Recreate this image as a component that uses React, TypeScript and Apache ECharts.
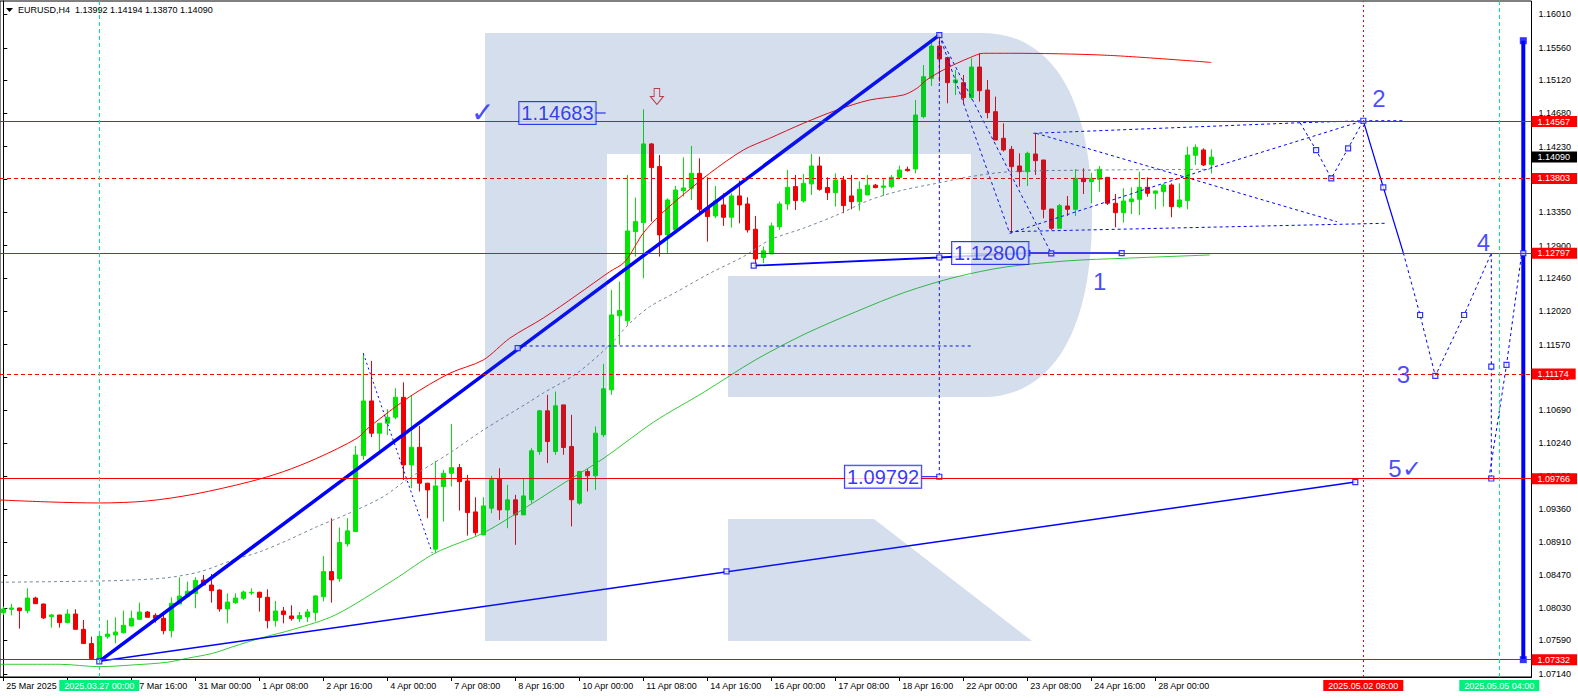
import React, { useEffect, useRef } from "react";
import * as echarts from "echarts";

const FONT = '"Liberation Sans", Arial, sans-serif';
const UP = "#00e600";
const DOWN = "#f00000";
const BLUE = "#0000ff";
const RED = "#ff0000";
const SPRING = "#00f07c";

// [open, close, low, high] – one per H4 bar, index 0 = 25 Mar 2025 00:00
const candles: number[][] = [
  [1.07964, 1.08014, 1.07933, 1.08045], [1.08009, 1.08027, 1.07928, 1.08081], [1.08027, 1.07991, 1.07749, 1.0803],
  [1.07991, 1.08161, 1.07955, 1.08291], [1.08161, 1.08085, 1.08081, 1.08179], [1.08081, 1.07893, 1.07879, 1.08085],
  [1.07911, 1.07933, 1.07763, 1.07946], [1.07933, 1.0783, 1.07763, 1.07935], [1.0783, 1.07946, 1.07821, 1.08009],
  [1.07946, 1.0774, 1.0774, 1.08009], [1.0774, 1.07548, 1.07548, 1.07866], [1.07548, 1.07346, 1.07328, 1.07642],
  [1.07346, 1.07646, 1.07306, 1.07664], [1.07642, 1.07677, 1.07615, 1.07866], [1.07664, 1.07704, 1.07552, 1.07902],
  [1.07695, 1.07794, 1.07686, 1.07991], [1.07785, 1.07888, 1.07779, 1.07991], [1.07875, 1.07973, 1.0787, 1.08099],
  [1.07973, 1.07902, 1.07902, 1.07987], [1.07928, 1.07888, 1.0783, 1.07955], [1.07888, 1.07722, 1.07673, 1.07946],
  [1.07722, 1.0809, 1.07633, 1.0817], [1.08081, 1.08188, 1.08081, 1.08439], [1.08179, 1.08251, 1.0817, 1.08381],
  [1.08224, 1.08399, 1.08023, 1.08439], [1.08403, 1.08336, 1.08336, 1.08471], [1.08336, 1.0826, 1.08099, 1.08484],
  [1.08269, 1.08014, 1.07978, 1.08278], [1.08014, 1.08108, 1.07821, 1.08224], [1.08099, 1.08161, 1.08081, 1.08224],
  [1.08157, 1.08242, 1.08135, 1.0826], [1.08229, 1.08238, 1.08202, 1.08291], [1.08238, 1.0817, 1.07978, 1.08247],
  [1.08171, 1.07857, 1.07754, 1.08278], [1.07857, 1.07987, 1.07777, 1.08122], [1.07987, 1.07938, 1.07821, 1.08041],
  [1.0792, 1.07884, 1.07857, 1.08063], [1.07884, 1.07925, 1.07839, 1.07974], [1.07907, 1.07974, 1.07839, 1.08014],
  [1.07965, 1.08189, 1.07848, 1.082], [1.08179, 1.08516, 1.08117, 1.08726], [1.08516, 1.08404, 1.08099, 1.09233],
  [1.0842, 1.08907, 1.0838, 1.09109], [1.08889, 1.09064, 1.08853, 1.09234], [1.09055, 1.10085, 1.0905, 1.10206],
  [1.10076, 1.10811, 1.10018, 1.11452], [1.10811, 1.10377, 1.10323, 1.11349], [1.10377, 1.10511, 1.10144, 1.10511],
  [1.10511, 1.10592, 1.10354, 1.10699], [1.10592, 1.1086, 1.10565, 1.10981], [1.1086, 1.09951, 1.09749, 1.11062],
  [1.09951, 1.10188, 1.09637, 1.10892], [1.10188, 1.09705, 1.09593, 1.10475], [1.09705, 1.09615, 1.09234, 1.0971],
  [1.08818, 1.09669, 1.08764, 1.10005], [1.0966, 1.09839, 1.09189, 1.09884], [1.09839, 1.09915, 1.0966, 1.10502],
  [1.09915, 1.09727, 1.09337, 1.09964], [1.09736, 1.0931, 1.09001, 1.09817], [1.09319, 1.09041, 1.09001, 1.09516],
  [1.0901, 1.094, 1.09005, 1.09516], [1.09369, 1.09758, 1.09301, 1.09803], [1.09758, 1.09346, 1.09212, 1.09906],
  [1.09346, 1.09481, 1.091, 1.09682], [1.09481, 1.09279, 1.08876, 1.09548], [1.09279, 1.09534, 1.09279, 1.09772],
  [1.09482, 1.10141, 1.09437, 1.10176], [1.10132, 1.10678, 1.10087, 1.10692], [1.10678, 1.10266, 1.09975, 1.10893],
  [1.10132, 1.10745, 1.10087, 1.10938], [1.10758, 1.10185, 1.10087, 1.10758], [1.10199, 1.09482, 1.09124, 1.10624],
  [1.09437, 1.09863, 1.09415, 1.0987], [1.09863, 1.09805, 1.09594, 1.09894], [1.09805, 1.10378, 1.09616, 1.10468],
  [1.10356, 1.10974, 1.10324, 1.1131], [1.1096, 1.11968, 1.10893, 1.12304], [1.11955, 1.12027, 1.11565, 1.12416],
  [1.11888, 1.13097, 1.11834, 1.1385], [1.13088, 1.13223, 1.12752, 1.13545], [1.13209, 1.14267, 1.12461, 1.14733],
  [1.14267, 1.13949, 1.13223, 1.1428], [1.13962, 1.13044, 1.12752, 1.14119], [1.13044, 1.13514, 1.12797, 1.13536],
  [1.13111, 1.13648, 1.13111, 1.13702], [1.13639, 1.13675, 1.13559, 1.14087], [1.13671, 1.13872, 1.13514, 1.1424],
  [1.13872, 1.13388, 1.13326, 1.14074], [1.13402, 1.1329, 1.12954, 1.13819], [1.13299, 1.13501, 1.13268, 1.13702],
  [1.13447, 1.13281, 1.13165, 1.13604], [1.13281, 1.13568, 1.13142, 1.13604], [1.13568, 1.13447, 1.132, 1.13774],
  [1.1346, 1.13111, 1.13075, 1.1355], [1.1312, 1.12721, 1.12618, 1.13299], [1.12739, 1.12829, 1.12663, 1.12887],
  [1.12788, 1.13165, 1.12788, 1.13209], [1.13155, 1.1346, 1.13111, 1.13492], [1.1346, 1.13684, 1.1338, 1.13917],
  [1.13693, 1.13505, 1.13379, 1.1385], [1.13501, 1.13738, 1.13478, 1.13863], [1.13729, 1.13971, 1.13581, 1.14132],
  [1.13971, 1.13657, 1.13639, 1.14096], [1.1368, 1.13612, 1.13514, 1.13818], [1.13612, 1.13783, 1.13424, 1.13872],
  [1.13783, 1.13438, 1.13335, 1.13836], [1.13568, 1.13491, 1.13388, 1.1385], [1.13491, 1.13657, 1.1337, 1.13765],
  [1.13581, 1.13713, 1.13581, 1.1385], [1.13713, 1.1368, 1.13671, 1.13729], [1.13684, 1.13702, 1.13568, 1.13792],
  [1.13693, 1.13818, 1.13671, 1.1385], [1.13814, 1.13917, 1.13805, 1.13975], [1.13926, 1.13908, 1.13895, 1.13962],
  [1.1393, 1.14656, 1.13872, 1.14858], [1.14634, 1.15171, 1.14612, 1.15328], [1.15149, 1.15584, 1.15046, 1.15655],
  [1.15584, 1.15409, 1.15104, 1.15718], [1.15427, 1.15091, 1.14813, 1.1544], [1.15091, 1.15127, 1.14925, 1.15261],
  [1.15091, 1.14889, 1.14813, 1.15194], [1.14889, 1.15301, 1.14858, 1.15418], [1.15301, 1.14983, 1.14835, 1.15485],
  [1.14992, 1.14688, 1.14612, 1.15127], [1.14701, 1.1432, 1.1432, 1.14903], [1.14343, 1.14186, 1.14164, 1.14544],
  [1.14195, 1.13962, 1.13066, 1.14239], [1.13971, 1.13894, 1.13693, 1.14141], [1.13894, 1.14141, 1.13702, 1.14163],
  [1.14132, 1.14042, 1.1385, 1.1441], [1.14051, 1.13388, 1.13267, 1.14051], [1.13392, 1.13133, 1.13111, 1.13392],
  [1.13133, 1.13437, 1.13133, 1.13459], [1.13433, 1.13388, 1.13299, 1.13567], [1.13388, 1.13805, 1.13299, 1.1393],
  [1.13805, 1.1376, 1.13594, 1.13939], [1.1376, 1.13805, 1.13469, 1.13881], [1.13791, 1.13926, 1.13625, 1.1397],
  [1.13818, 1.13469, 1.13446, 1.13818], [1.13469, 1.13343, 1.13146, 1.13594], [1.13343, 1.135, 1.13209, 1.1367],
  [1.13491, 1.13527, 1.13325, 1.13684], [1.13522, 1.13684, 1.13312, 1.13894], [1.13684, 1.13603, 1.13558, 1.13818],
  [1.13603, 1.13635, 1.13388, 1.13639], [1.13626, 1.13715, 1.13424, 1.13729], [1.13715, 1.13424, 1.13281, 1.13738],
  [1.13424, 1.13514, 1.13402, 1.13738], [1.13505, 1.14118, 1.13388, 1.1423], [1.14114, 1.14221, 1.13984, 1.14262],
  [1.14186, 1.13984, 1.1397, 1.14208], [1.13992, 1.1409, 1.1387, 1.14194],
];

const xTickIndex = [0, 8, 16, 24, 32, 40, 48, 56, 64, 72, 80, 88, 96, 104, 112, 120, 128, 136, 144];
// the 26 Mar 08:00 label sits under the highlighted cursor time box, so it is not shown
const xLabelIndex = [0, 16, 24, 32, 40, 48, 56, 64, 72, 80, 88, 96, 104, 112, 120, 128, 136, 144];
const xTickLabels = [
  "25 Mar 2025", "27 Mar 16:00", "31 Mar 00:00", "1 Apr 08:00", "2 Apr 16:00", "4 Apr 00:00",
  "7 Apr 08:00", "8 Apr 16:00", "10 Apr 00:00", "11 Apr 08:00", "14 Apr 16:00", "16 Apr 00:00", "17 Apr 08:00",
  "18 Apr 16:00", "22 Apr 00:00", "23 Apr 08:00", "24 Apr 16:00", "28 Apr 00:00",
];
const yTickValues = [
  1.1601, 1.1556, 1.1512, 1.1468, 1.1423, 1.1379, 1.1335, 1.129, 1.1246, 1.1202, 1.1157, 1.1113, 1.1069, 1.1024,
  1.098, 1.0936, 1.0891, 1.0847, 1.0803, 1.0759, 1.0714,
];

// indicator lines [barIndex, price]
const redMA = [
  [-0.41, 1.09479], [6, 1.09452], [12, 1.09439], [18, 1.09466], [24, 1.0956], [30.8, 1.09725], [35, 1.0986],
  [39.2, 1.1004], [44.2, 1.10309], [45.8, 1.10465], [50.8, 1.10868], [55.8, 1.11183], [60, 1.11362], [63.3, 1.11654],
  [67.5, 1.11926], [71.7, 1.12236], [75.8, 1.12549], [77.7, 1.12683], [80, 1.13069], [82.1, 1.13311], [84.2, 1.13513],
  [88.3, 1.13872], [92.5, 1.14185], [95.8, 1.14343], [100, 1.14544], [104.2, 1.14723], [108.3, 1.14858],
  [112.5, 1.14925], [114.2, 1.15015], [115.4, 1.15127], [117.5, 1.15262], [119.2, 1.15351], [120.8, 1.15426],
  [122.5, 1.15486], [125.8, 1.15486], [138, 1.15459], [151, 1.15363],
];
const greenMA = [
  [-0.41, 1.0727], [7, 1.0727], [12, 1.07238], [16.2, 1.07261], [20.5, 1.07297], [23, 1.07351], [26.2, 1.07418],
  [28.7, 1.07507], [32.1, 1.0762], [36.3, 1.07741], [41.5, 1.07933], [48.8, 1.08404], [54, 1.08767], [60, 1.09036],
  [66.2, 1.09439], [70.1, 1.09708], [75.1, 1.10044], [81.3, 1.10528], [87.6, 1.10931], [94, 1.11362],
  [100.2, 1.11711], [106.5, 1.12007], [112.8, 1.12276], [119.1, 1.12478], [125.3, 1.12612], [133.3, 1.12697],
  [140, 1.12729], [150.8, 1.12774],
];
const grayMA = [
  [-0.41, 1.08373], [12.1, 1.0839], [16.2, 1.08404], [20.5, 1.08434], [24.6, 1.08515], [28.7, 1.08672],
  [32.1, 1.08784], [35.6, 1.08941], [39.2, 1.0912], [43.3, 1.09304], [47.5, 1.09524], [50.4, 1.09748],
  [55.8, 1.10111], [60, 1.1042], [65.8, 1.10801], [67.5, 1.10918], [71.7, 1.11183], [75.8, 1.11563],
  [78.3, 1.11855], [80.8, 1.12078], [84.2, 1.1228], [88.3, 1.12527], [92.5, 1.12751], [95.8, 1.12975],
  [100, 1.13133], [104.2, 1.13311], [108.3, 1.13513], [112.5, 1.13648], [116.7, 1.13738], [120.8, 1.13826],
  [125.8, 1.13893], [137.1, 1.13916], [150.8, 1.13926],
];

// analyst drawings [barIndex, price]
const thickTrend = [[12, 1.0731], [117, 1.1573]];
const longTrend = [[12, 1.0731], [169, 1.0972]];
const midLevel = [[64.3, 1.1155], [121, 1.1155]];
const supportLine = [[93.8, 1.1263], [117, 1.1274], [128, 1.128], [139.8, 1.128]];
const dashDrop45 = [[45, 1.1145], [53.6, 1.0877]];
const dropDashA = [[117, 1.1573], [125.8, 1.13065]];
const dropDashB = [[117, 1.1573], [131, 1.12796]];
const vertDash117 = [[117, 1.1573], [117, 1.09792]];
const waveToTwo = [[125.8, 1.13065], [150.8, 1.13939], [170, 1.14579]];
const triUpper = [[128.75, 1.1441], [162.1, 1.14552], [170, 1.14579]];
const triDesc = [[129.1, 1.1441], [166.7, 1.13221]];
const triLower = [[125.8, 1.13087], [172.7, 1.132]];
const zigzag = [[162.1, 1.14552], [164.1, 1.14185], [166, 1.13805], [168.1, 1.14208], [170, 1.14579]];
const topExt = [[170, 1.14579], [175, 1.14579]];
const solidDrop = [[170, 1.14579], [172.5, 1.13684], [175, 1.12804]];
const wave3to4 = [[175, 1.12804], [177.1, 1.11967], [179, 1.11147], [182.6, 1.11967], [186, 1.12797]];
const wave5 = [[186, 1.12797], [186, 1.09768]];
const wave5up = [[185.7, 1.09768], [187.9, 1.11295], [189.8, 1.12794]];
const bigVertical = [[190, 1.15655], [190, 1.07332]];
const label1468Tail = [[73.8, 1.14683], [75.3, 1.14683]];
const label1097Tail = [[114.85, 1.09792], [117, 1.09792]];

const hollowSquares = [
  [12, 1.0731], [64.3, 1.1152], [117, 1.1573], [90.4, 1.0852], [169, 1.0972], [93.8, 1.1263], [117, 1.1274],
  [139.8, 1.128], [128, 1.128], [117, 1.09792], [131, 1.12796], [164.1, 1.14185], [166, 1.13805], [168.1, 1.14208],
  [170, 1.14579], [172.5, 1.13684], [177.1, 1.11967], [182.6, 1.11967], [186, 1.11272], [187.9, 1.11295],
  [190, 1.12797], [179, 1.11147], [186, 1.09768],
];
const filledSquares = [[190, 1.15655], [190, 1.07332]];

const boxedLabels = [
  { value: [64.5, 1.14683], name: "1.14683" },
  { value: [118.6, 1.128], name: "1.12800" },
  { value: [105.2, 1.09792], name: "1.09792" },
];
const waveLabels = [
  { value: [137.05, 1.12415], name: "1" },
  { value: [171.96, 1.14875], name: "2" },
  { value: [175, 1.1116], name: "3" },
  { value: [185, 1.12939], name: "4" },
  { value: [175.2, 1.09906], name: "5\u2713" },
];
const checkMarks = [{ value: [59.96, 1.14688], name: "\u2713" }];
const arrowMarks = [[81.7, 1.14905]];

const solidLevels = [1.14567, 1.12797, 1.09766, 1.07332];
const dashedLevels = [1.13803, 1.11174];
const lastPrice = 1.1409;
const timeMarks = [
  { idx: 12, text: "2025.03.27 00:00", color: SPRING, dash: [4, 3] },
  { idx: 170, text: "2025.05.02 08:00", color: RED, dash: [2, 3] },
  { idx: 187, text: "2025.05.05 04:00", color: SPRING, dash: [4, 3] },
];
const header = "EURUSD,H4  1.13992 1.14194 1.13870 1.14090";

const R_PATH =
  "M485,33 L983,33 C1050,33 1092,95 1092,215 C1092,335 1050,397 983,397 L728,397 L728,276 L971,276 L971,154 L607,154 L607,641 L485,641 Z M728,519 L874,519 L1032,641 L728,641 Z";

let shapeReady = false;
function ensureShape() {
  if (shapeReady) return;
  echarts.graphic.registerShape("logo", echarts.graphic.extendPath(R_PATH, {}));
  shapeReady = true;
}

function seg(data: number[][], color: string, width: number, type: any = "solid", smooth: any = false) {
  return {
    type: "line",
    data,
    symbol: "none",
    smooth,
    silent: true,
    z: 3,
    lineStyle: { color, width, type },
  };
}

function buildOption() {
  const priceLabel = (bg: string, v: number) => ({
    show: true,
    position: "end",
    distance: 0,
    formatter: v.toFixed(5),
    backgroundColor: bg,
    color: "#fff",
    fontSize: 9,
    fontFamily: FONT,
    lineHeight: 9,
    padding: [1, 7, 1, 6],
  });
  const markData: any[] = [];
  solidLevels.forEach((v) =>
    markData.push({ yAxis: v, lineStyle: { color: RED, width: 1, type: "solid" }, label: priceLabel(RED, v) })
  );
  dashedLevels.forEach((v) =>
    markData.push({ yAxis: v, lineStyle: { color: RED, width: 1, type: [4, 3] }, label: priceLabel(RED, v) })
  );
  markData.push({
    yAxis: lastPrice,
    lineStyle: { color: "rgba(0,0,0,0)", width: 1, type: "solid" },
    label: priceLabel("#000", lastPrice),
  });
  timeMarks.forEach((t) =>
    markData.push({
      xAxis: t.idx,
      lineStyle: { color: t.color, width: 1, type: t.dash },
      label: {
        show: true,
        position: "start",
        distance: 3,
        formatter: t.text,
        backgroundColor: t.color,
        color: "#fff",
        fontSize: 9,
        fontFamily: FONT,
        lineHeight: 9,
        padding: [1, 5, 1, 5],
      },
    })
  );

  return {
    animation: false,
    backgroundColor: "#fff",
    grid: { left: 0, right: 46.5, top: 1, bottom: 21, show: true, borderColor: "#000", borderWidth: 1, backgroundColor: "#fff" },
    xAxis: {
      type: "value",
      min: -0.4125,
      max: 191.025,
      axisLine: { show: true, onZero: false, lineStyle: { color: "#000", width: 1 } },
      axisTick: { show: true, customValues: xTickIndex, length: 4, lineStyle: { color: "#000" } },
      axisLabel: {
        customValues: xLabelIndex,
        formatter: (v: number) => {
          const k = xLabelIndex.indexOf(Math.round(v));
          return k >= 0 ? xTickLabels[k] : "";
        },
        align: "left",
        padding: [0, 0, 0, 3],
        margin: 4,
        color: "#000",
        fontSize: 9,
        fontFamily: FONT,
      },
      splitLine: { show: false },
    },
    yAxis: {
      type: "value",
      position: "right",
      min: 1.07099,
      max: 1.16189,
      scale: true,
      axisLine: { show: true, lineStyle: { color: "#000", width: 1 } },
      axisTick: { show: true, customValues: yTickValues, length: 4, lineStyle: { color: "#000" } },
      axisLabel: {
        customValues: yTickValues,
        formatter: (v: number) => v.toFixed(5),
        color: "#000",
        fontSize: 9,
        fontFamily: FONT,
        margin: 7,
      },
      splitLine: { show: false },
    },
    graphic: [
      { type: "polygon", shape: { points: [[6, 8], [13, 8], [9.5, 12]] }, style: { fill: "#000" }, silent: true },
      {
        type: "text",
        left: 18,
        top: 5,
        style: { text: header, fill: "#000", font: `9px ${FONT}` },
        silent: true,
      },
      { type: "logo", x: 0, y: 0, z: 100, silent: true, style: { fill: "rgba(46,92,158,0.2)" } },
    ],
    series: [
      {
        type: "candlestick",
        data: candles.map((c, i) => [i, c[0], c[1], c[2], c[3]]),
        encode: { x: 0, y: [1, 2, 3, 4] },
        barWidth: 4,
        silent: true,
        z: 2,
        itemStyle: { color: UP, color0: DOWN, borderColor: UP, borderColor0: DOWN, borderColorDoji: UP, borderWidth: 1 },
        markLine: { symbol: ["none", "none"], precision: 5, silent: true, animation: false, data: markData },
      },
      seg(redMA, RED, 1, "solid", 0.3),
      seg(greenMA, "#33cc33", 1, "solid", 0.3),
      seg(grayMA, "#778899", 1, [3, 3], 0.3),
      seg(thickTrend, BLUE, 3.5),
      seg(longTrend, BLUE, 1.5),
      seg(midLevel, BLUE, 1, [3, 3]),
      seg(supportLine, BLUE, 1.8),
      seg(dashDrop45, BLUE, 1, [2, 3]),
      seg(dropDashA, BLUE, 1, [3, 3]),
      seg(dropDashB, BLUE, 1, [3, 3]),
      seg(vertDash117, BLUE, 1, [3, 3]),
      seg(waveToTwo, BLUE, 1, [3, 3]),
      seg(triUpper, BLUE, 1, [3, 3]),
      seg(triDesc, BLUE, 1, [3, 3]),
      seg(triLower, BLUE, 1, [3, 3]),
      seg(zigzag, BLUE, 1, [3, 3]),
      seg(topExt, BLUE, 1, [3, 3]),
      seg(solidDrop, BLUE, 1.2),
      seg(wave3to4, BLUE, 1, [3, 3]),
      seg(wave5, BLUE, 1, [3, 3]),
      seg(wave5up, BLUE, 1, [3, 3]),
      seg(bigVertical, BLUE, 4),
      seg(label1468Tail, BLUE, 1),
      seg(label1097Tail, BLUE, 1),
      {
        type: "scatter",
        data: hollowSquares,
        symbol: "rect",
        symbolSize: 5,
        silent: true,
        z: 4,
        itemStyle: { color: "#fff", borderColor: BLUE, borderWidth: 1.2 },
      },
      {
        type: "scatter",
        data: filledSquares,
        symbol: "rect",
        symbolSize: 7,
        silent: true,
        z: 4,
        itemStyle: { color: BLUE },
      },
      {
        type: "scatter",
        data: arrowMarks,
        symbol: "path://M4,0 L10,0 L10,8 L14,8 L7,16 L0,8 L4,8 Z",
        symbolSize: [13, 16],
        silent: true,
        z: 4,
        itemStyle: { color: "#fff", borderColor: "#e00000", borderWidth: 1 },
      },
      {
        type: "scatter",
        data: boxedLabels,
        symbolSize: 0,
        silent: true,
        z: 5,
        label: {
          show: true,
          position: "right",
          distance: 0,
          formatter: "{b}",
          color: BLUE,
          fontSize: 20,
          fontFamily: FONT,
          lineHeight: 21,
          backgroundColor: "#fff",
          borderColor: BLUE,
          borderWidth: 1,
          padding: [1, 2, 0, 2],
        },
      },
      {
        type: "scatter",
        data: waveLabels,
        symbolSize: 0,
        silent: true,
        z: 5,
        label: { show: true, position: "inside", formatter: "{b}", color: "#1a1aff", fontSize: 24, fontFamily: FONT },
      },
      {
        type: "scatter",
        data: checkMarks,
        symbolSize: 0,
        silent: true,
        z: 5,
        label: { show: true, position: "inside", formatter: "{b}", color: "#1a1aff", fontSize: 28, fontFamily: FONT },
      },
    ],
  };
}

export default function App() {
  const ref = useRef<HTMLDivElement>(null);
  useEffect(() => {
    document.body.style.margin = "0";
    ensureShape();
    const chart = echarts.init(ref.current as HTMLDivElement, null, { renderer: "svg" });
    chart.setOption(buildOption() as any);
    return () => chart.dispose();
  }, []);
  return <div ref={ref} style={{ position: "absolute", left: 0, top: 0, width: 1578, height: 698 }} />;
}
